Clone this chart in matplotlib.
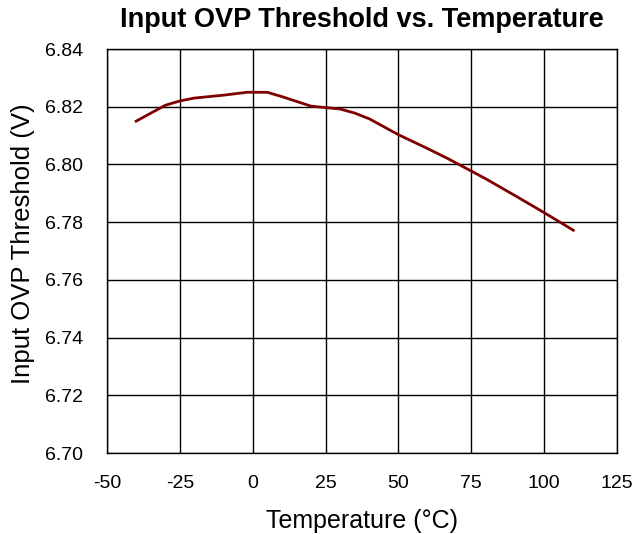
import numpy as np
import matplotlib
matplotlib.use("Agg")
import matplotlib.pyplot as plt

plt.rcParams['font.family'] = ['Liberation Sans', 'DejaVu Sans']
plt.rcParams['axes.unicode_minus'] = False

# Data
temp = [-40, -30, -25, -20, -10, -2, 5, 10, 20, 30, 35, 40, 50, 60, 67, 75, 80, 90, 100, 110]
ovp = [6.8150, 6.8205, 6.8220, 6.8230, 6.8240, 6.8250, 6.8250, 6.8235, 6.8202, 6.8192,
       6.8178, 6.8158, 6.8103, 6.8055, 6.8020, 6.7977, 6.7950, 6.7892, 6.7833, 6.7772]

xticks = [-50, -25, 0, 25, 50, 75, 100, 125]
yticks = [6.70, 6.72, 6.74, 6.76, 6.78, 6.80, 6.82, 6.84]

fig = plt.figure(figsize=(6.38, 5.34), dpi=100)
ax = fig.add_axes([107/638, 1 - 453/534, 510/638, 404/534])

ax.plot(temp, ovp, color='#800000', linewidth=2)

ax.set_xlim(-50, 125)
ax.set_ylim(6.70, 6.84)
ax.set_xticks(xticks)
ax.set_yticks(yticks)
ax.set_yticklabels([f"{v:.2f}" for v in yticks])
ax.grid(True, color='black', linewidth=1)
ax.tick_params(length=0, labelsize=14)
ax.tick_params(axis='x', pad=16)
ax.tick_params(axis='y', pad=17)
for s in ax.spines.values():
    s.set_color('black')
    s.set_linewidth(1)

ax.set_xlabel('Temperature (°C)', fontsize=18, labelpad=12)
ax.set_ylabel('Input OVP Threshold (V)', fontsize=18.5)
ax.yaxis.set_label_coords(-0.141, 0.518)
ax.set_title('Input OVP Threshold vs. Temperature', fontsize=19.5, fontweight='bold', pad=16)

fig.savefig('out.png', dpi=100)
